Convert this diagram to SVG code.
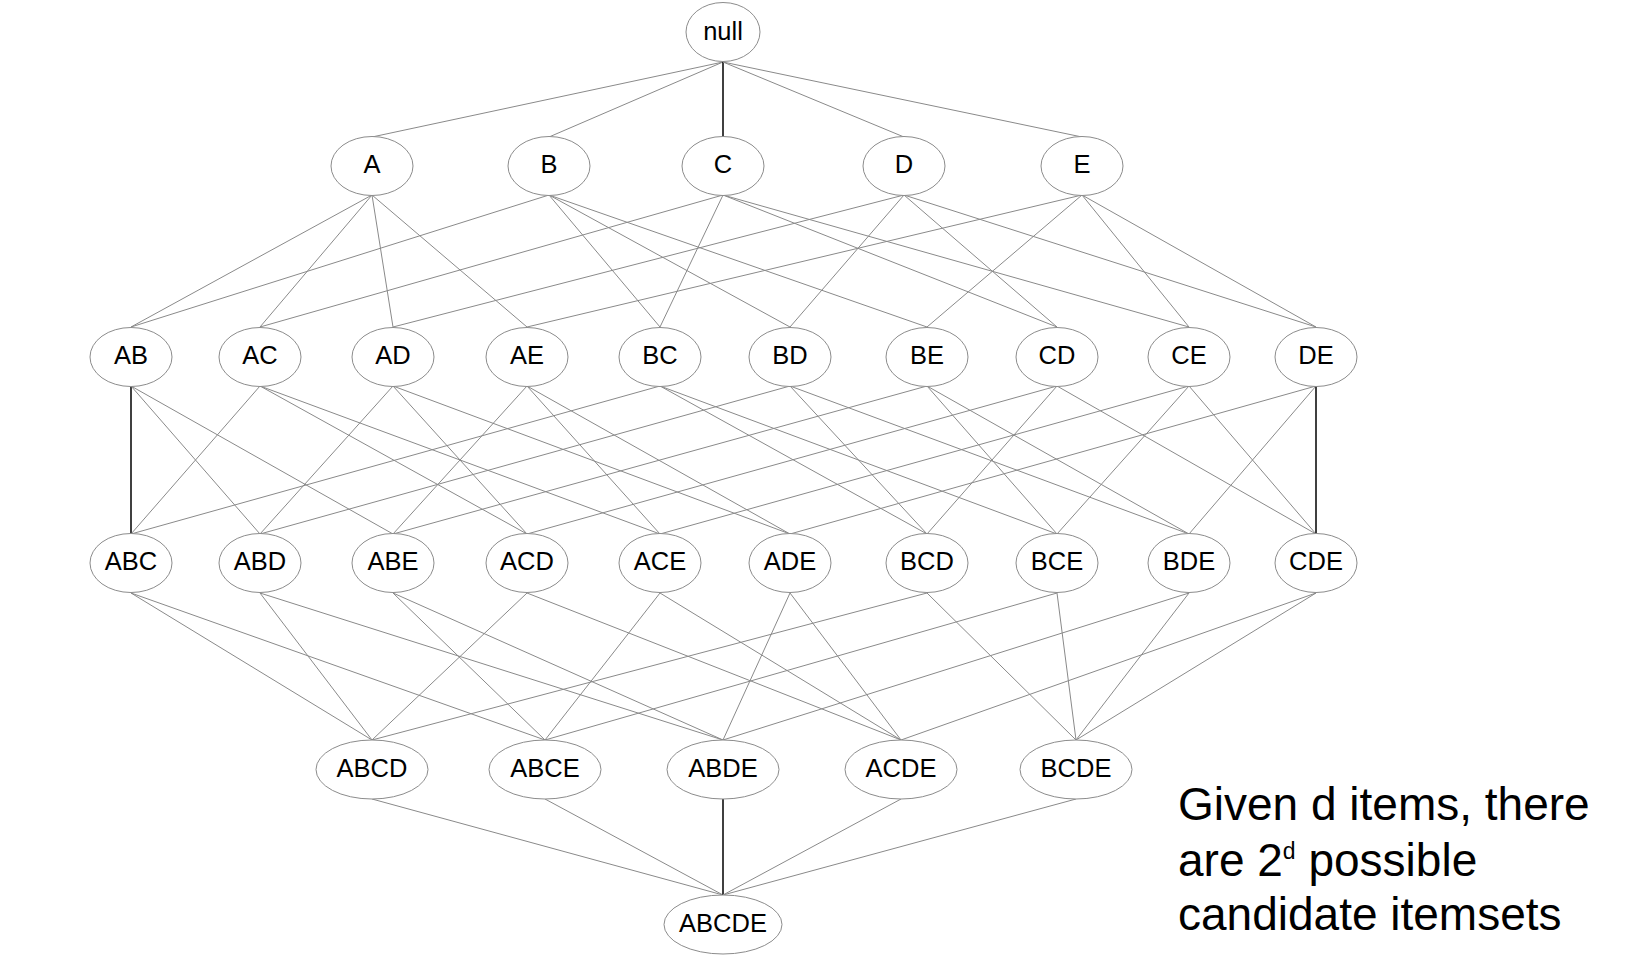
<svg xmlns="http://www.w3.org/2000/svg" width="1628" height="966" viewBox="0 0 1628 966">
<style>
.n ellipse{fill:#fff;stroke:#8c8c8c;stroke-width:1}
.n text{font-family:"Liberation Sans",Arial,sans-serif;font-size:25.5px;fill:#000;text-anchor:middle}
#edges line{stroke:#8a8a8a;stroke-width:1}
#edges line.k{stroke:#000;stroke-width:1.5}
.cap{font-family:"Liberation Sans",Arial,sans-serif;font-size:46px;fill:#000}
</style>
<rect width="1628" height="966" fill="#fff"/>
<g id="edges">
<line x1="723" y1="62" x2="372" y2="137"/>
<line x1="723" y1="62" x2="549" y2="137"/>
<line class="k" x1="723" y1="62" x2="723" y2="137"/>
<line x1="723" y1="62" x2="904" y2="137"/>
<line x1="723" y1="62" x2="1082" y2="137"/>
<line x1="372" y1="195" x2="131" y2="327"/>
<line x1="372" y1="195" x2="260" y2="327"/>
<line x1="372" y1="195" x2="393" y2="327"/>
<line x1="372" y1="195" x2="527" y2="327"/>
<line x1="549" y1="195" x2="131" y2="327"/>
<line x1="549" y1="195" x2="660" y2="327"/>
<line x1="549" y1="195" x2="790" y2="327"/>
<line x1="549" y1="195" x2="927" y2="327"/>
<line x1="723" y1="195" x2="260" y2="327"/>
<line x1="723" y1="195" x2="660" y2="327"/>
<line x1="723" y1="195" x2="1057" y2="327"/>
<line x1="723" y1="195" x2="1189" y2="327"/>
<line x1="904" y1="195" x2="393" y2="327"/>
<line x1="904" y1="195" x2="790" y2="327"/>
<line x1="904" y1="195" x2="1057" y2="327"/>
<line x1="904" y1="195" x2="1316" y2="327"/>
<line x1="1082" y1="195" x2="527" y2="327"/>
<line x1="1082" y1="195" x2="927" y2="327"/>
<line x1="1082" y1="195" x2="1189" y2="327"/>
<line x1="1082" y1="195" x2="1316" y2="327"/>
<line class="k" x1="131" y1="386" x2="131" y2="534"/>
<line x1="131" y1="386" x2="260" y2="534"/>
<line x1="131" y1="386" x2="393" y2="534"/>
<line x1="260" y1="386" x2="131" y2="534"/>
<line x1="260" y1="386" x2="527" y2="534"/>
<line x1="260" y1="386" x2="660" y2="534"/>
<line x1="393" y1="386" x2="260" y2="534"/>
<line x1="393" y1="386" x2="527" y2="534"/>
<line x1="393" y1="386" x2="790" y2="534"/>
<line x1="527" y1="386" x2="393" y2="534"/>
<line x1="527" y1="386" x2="660" y2="534"/>
<line x1="527" y1="386" x2="790" y2="534"/>
<line x1="660" y1="386" x2="131" y2="534"/>
<line x1="660" y1="386" x2="927" y2="534"/>
<line x1="660" y1="386" x2="1057" y2="534"/>
<line x1="790" y1="386" x2="260" y2="534"/>
<line x1="790" y1="386" x2="927" y2="534"/>
<line x1="790" y1="386" x2="1189" y2="534"/>
<line x1="927" y1="386" x2="393" y2="534"/>
<line x1="927" y1="386" x2="1057" y2="534"/>
<line x1="927" y1="386" x2="1189" y2="534"/>
<line x1="1057" y1="386" x2="527" y2="534"/>
<line x1="1057" y1="386" x2="927" y2="534"/>
<line x1="1057" y1="386" x2="1316" y2="534"/>
<line x1="1189" y1="386" x2="660" y2="534"/>
<line x1="1189" y1="386" x2="1057" y2="534"/>
<line x1="1189" y1="386" x2="1316" y2="534"/>
<line x1="1316" y1="386" x2="790" y2="534"/>
<line x1="1316" y1="386" x2="1189" y2="534"/>
<line class="k" x1="1316" y1="386" x2="1316" y2="534"/>
<line x1="131" y1="593" x2="372" y2="740"/>
<line x1="131" y1="593" x2="545" y2="740"/>
<line x1="260" y1="593" x2="372" y2="740"/>
<line x1="260" y1="593" x2="723" y2="740"/>
<line x1="393" y1="593" x2="545" y2="740"/>
<line x1="393" y1="593" x2="723" y2="740"/>
<line x1="527" y1="593" x2="372" y2="740"/>
<line x1="527" y1="593" x2="901" y2="740"/>
<line x1="660" y1="593" x2="545" y2="740"/>
<line x1="660" y1="593" x2="901" y2="740"/>
<line x1="790" y1="593" x2="723" y2="740"/>
<line x1="790" y1="593" x2="901" y2="740"/>
<line x1="927" y1="593" x2="372" y2="740"/>
<line x1="927" y1="593" x2="1076" y2="740"/>
<line x1="1057" y1="593" x2="545" y2="740"/>
<line x1="1057" y1="593" x2="1076" y2="740"/>
<line x1="1189" y1="593" x2="723" y2="740"/>
<line x1="1189" y1="593" x2="1076" y2="740"/>
<line x1="1316" y1="593" x2="901" y2="740"/>
<line x1="1316" y1="593" x2="1076" y2="740"/>
<line x1="372" y1="799" x2="723" y2="895"/>
<line x1="545" y1="799" x2="723" y2="895"/>
<line class="k" x1="723" y1="799" x2="723" y2="895"/>
<line x1="901" y1="799" x2="723" y2="895"/>
<line x1="1076" y1="799" x2="723" y2="895"/>
</g>
<g id="null" class="n"><ellipse cx="723" cy="32" rx="37" ry="29.5"/><text x="723" y="40">null</text></g>
<g id="A" class="n"><ellipse cx="372" cy="166" rx="41" ry="29.5"/><text x="372" y="173">A</text></g>
<g id="B" class="n"><ellipse cx="549" cy="166" rx="41" ry="29.5"/><text x="549" y="173">B</text></g>
<g id="C" class="n"><ellipse cx="723" cy="166" rx="41" ry="29.5"/><text x="723" y="173">C</text></g>
<g id="D" class="n"><ellipse cx="904" cy="166" rx="41" ry="29.5"/><text x="904" y="173">D</text></g>
<g id="E" class="n"><ellipse cx="1082" cy="166" rx="41" ry="29.5"/><text x="1082" y="173">E</text></g>
<g id="AB" class="n"><ellipse cx="131" cy="357" rx="41" ry="29.5"/><text x="131" y="364">AB</text></g>
<g id="AC" class="n"><ellipse cx="260" cy="357" rx="41" ry="29.5"/><text x="260" y="364">AC</text></g>
<g id="AD" class="n"><ellipse cx="393" cy="357" rx="41" ry="29.5"/><text x="393" y="364">AD</text></g>
<g id="AE" class="n"><ellipse cx="527" cy="357" rx="41" ry="29.5"/><text x="527" y="364">AE</text></g>
<g id="BC" class="n"><ellipse cx="660" cy="357" rx="41" ry="29.5"/><text x="660" y="364">BC</text></g>
<g id="BD" class="n"><ellipse cx="790" cy="357" rx="41" ry="29.5"/><text x="790" y="364">BD</text></g>
<g id="BE" class="n"><ellipse cx="927" cy="357" rx="41" ry="29.5"/><text x="927" y="364">BE</text></g>
<g id="CD" class="n"><ellipse cx="1057" cy="357" rx="41" ry="29.5"/><text x="1057" y="364">CD</text></g>
<g id="CE" class="n"><ellipse cx="1189" cy="357" rx="41" ry="29.5"/><text x="1189" y="364">CE</text></g>
<g id="DE" class="n"><ellipse cx="1316" cy="357" rx="41" ry="29.5"/><text x="1316" y="364">DE</text></g>
<g id="ABC" class="n"><ellipse cx="131" cy="563" rx="41" ry="29.5"/><text x="131" y="570">ABC</text></g>
<g id="ABD" class="n"><ellipse cx="260" cy="563" rx="41" ry="29.5"/><text x="260" y="570">ABD</text></g>
<g id="ABE" class="n"><ellipse cx="393" cy="563" rx="41" ry="29.5"/><text x="393" y="570">ABE</text></g>
<g id="ACD" class="n"><ellipse cx="527" cy="563" rx="41" ry="29.5"/><text x="527" y="570">ACD</text></g>
<g id="ACE" class="n"><ellipse cx="660" cy="563" rx="41" ry="29.5"/><text x="660" y="570">ACE</text></g>
<g id="ADE" class="n"><ellipse cx="790" cy="563" rx="41" ry="29.5"/><text x="790" y="570">ADE</text></g>
<g id="BCD" class="n"><ellipse cx="927" cy="563" rx="41" ry="29.5"/><text x="927" y="570">BCD</text></g>
<g id="BCE" class="n"><ellipse cx="1057" cy="563" rx="41" ry="29.5"/><text x="1057" y="570">BCE</text></g>
<g id="BDE" class="n"><ellipse cx="1189" cy="563" rx="41" ry="29.5"/><text x="1189" y="570">BDE</text></g>
<g id="CDE" class="n"><ellipse cx="1316" cy="563" rx="41" ry="29.5"/><text x="1316" y="570">CDE</text></g>
<g id="ABCD" class="n"><ellipse cx="372" cy="769.5" rx="56" ry="29.5"/><text x="372" y="776.5">ABCD</text></g>
<g id="ABCE" class="n"><ellipse cx="545" cy="769.5" rx="56" ry="29.5"/><text x="545" y="776.5">ABCE</text></g>
<g id="ABDE" class="n"><ellipse cx="723" cy="769.5" rx="56" ry="29.5"/><text x="723" y="776.5">ABDE</text></g>
<g id="ACDE" class="n"><ellipse cx="901" cy="769.5" rx="56" ry="29.5"/><text x="901" y="776.5">ACDE</text></g>
<g id="BCDE" class="n"><ellipse cx="1076" cy="769.5" rx="56" ry="29.5"/><text x="1076" y="776.5">BCDE</text></g>
<g id="ABCDE" class="n"><ellipse cx="723" cy="924.5" rx="59" ry="29.5"/><text x="723" y="931.5">ABCDE</text></g>
<g id="caption">
<text class="cap" x="1178" y="820">Given d items, there</text>
<text class="cap" x="1178" y="876">are 2<tspan font-size="23" dy="-17">d</tspan><tspan dy="17"> possible</tspan></text>
<text class="cap" x="1178" y="930">candidate itemsets</text>
</g>
</svg>
